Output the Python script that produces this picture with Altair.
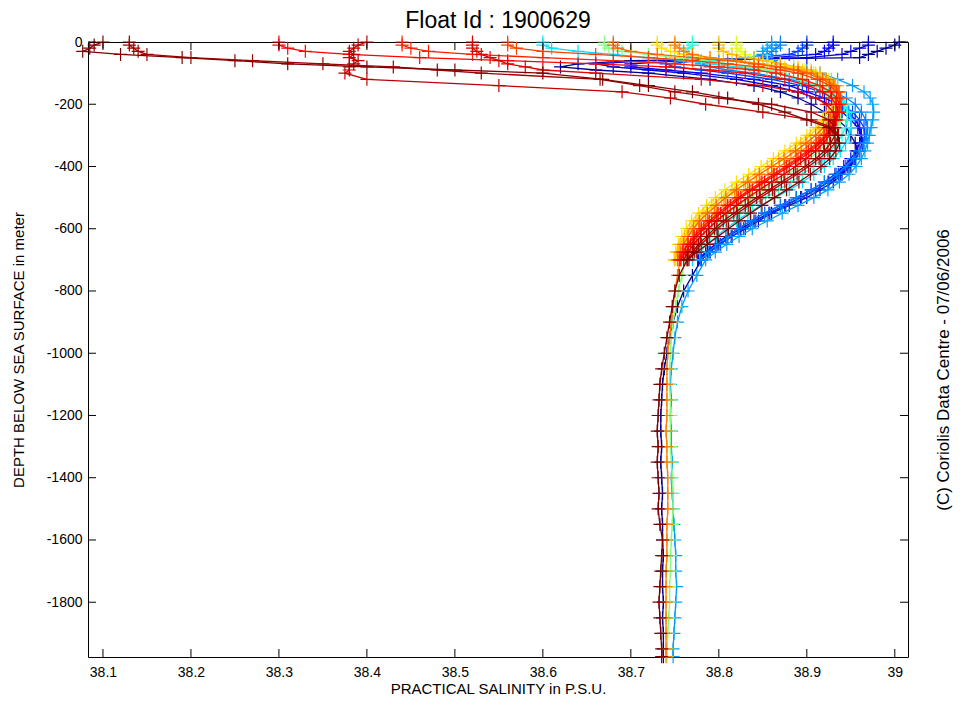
import altair as alt
import pandas as pd

TITLE = "Float Id : 1900629"
X_TITLE = "PRACTICAL SALINITY in P.S.U."
Y_TITLE = "DEPTH BELOW SEA SURFACE in meter"
NOTE = "(C) Coriolis Data Centre - 07/06/2006"

X_TICKS = [38.1, 38.2, 38.3, 38.4, 38.5, 38.6, 38.7, 38.8, 38.9, 39.0]
Y_TICKS = [0, -200, -400, -600, -800, -1000, -1200, -1400, -1600, -1800]

DEPTH_SHALLOW = [0, 10, 20, 30, 40, 50, 60, 70, 80, 90, 100,
                 120, 140, 160, 180, 200,
                 225, 250, 275, 300, 325, 350, 375, 400, 425, 450,
                 475, 500, 525, 550, 575, 600, 625, 650, 675, 700]
DEPTH_DEEP = [750, 800, 850, 900, 950, 1000, 1050, 1100, 1150, 1200, 1250, 1300, 1350,
              1400, 1450, 1500, 1550, 1600, 1650, 1700, 1750, 1800, 1850, 1900, 1950, 1975]

COLORS = ["#00008F", "#0000CF", "#0000FF", "#0040FF", "#0080FF", "#00A0FF", "#00DFFF",
          "#20FFDF", "#80FF80", "#DFFF20", "#FFDF00", "#FFBF00", "#FF8000", "#FF6000",
          "#FF4000", "#FF2000", "#FF0000", "#DF0000", "#BF0000", "#9F0000", "#800000"]

P01 = [39.005, 39.0, 38.99, 38.98, 38.97, 38.96, 38.70, 38.64, 38.62, 38.66, 38.72,
       38.79, 38.84, 38.87, 38.89, 38.905,
       38.92, 38.935, 38.945, 38.95, 38.955, 38.958, 38.955, 38.95, 38.94, 38.93,
       38.915, 38.90, 38.88, 38.86, 38.845, 38.83, 38.815, 38.80, 38.79, 38.78]
P02 = [38.97, 38.97, 38.96, 38.95, 38.94, 38.90, 38.72, 38.66, 38.68, 38.72, 38.76,
       38.82, 38.86, 38.89, 38.91, 38.925,
       38.94, 38.95, 38.958, 38.962, 38.963, 38.96, 38.955, 38.948, 38.938, 38.925,
       38.91, 38.893, 38.875, 38.857, 38.84, 38.825, 38.81, 38.798, 38.787, 38.777]
P03 = [38.93, 38.93, 38.925, 38.92, 38.91, 38.86, 38.76, 38.70, 38.70, 38.74, 38.78,
       38.84, 38.88, 38.90, 38.92, 38.935,
       38.947, 38.955, 38.96, 38.962, 38.96, 38.956, 38.95, 38.942, 38.932, 38.92,
       38.905, 38.888, 38.87, 38.852, 38.836, 38.822, 38.808, 38.796, 38.785, 38.776]
P04 = [38.90, 38.90, 38.895, 38.89, 38.88, 38.84, 38.78, 38.74, 38.75, 38.78, 38.81,
       38.86, 38.895, 38.915, 38.93, 38.94,
       38.952, 38.96, 38.965, 38.966, 38.964, 38.96, 38.954, 38.946, 38.936, 38.924,
       38.91, 38.894, 38.876, 38.858, 38.842, 38.828, 38.814, 38.802, 38.79, 38.78]
P05 = [38.87, 38.87, 38.865, 38.86, 38.855, 38.83, 38.80, 38.78, 38.79, 38.81, 38.84,
       38.88, 38.91, 38.93, 38.945, 38.955,
       38.962, 38.967, 38.969, 38.968, 38.965, 38.96, 38.953, 38.944, 38.934, 38.92,
       38.905, 38.888, 38.87, 38.852, 38.836, 38.822, 38.81, 38.798, 38.788, 38.779]
P06 = [38.86, 38.86, 38.855, 38.85, 38.85, 38.855, 38.86, 38.87, 38.885, 38.90, 38.915,
       38.935, 38.952, 38.965, 38.972, 38.975,
       38.976, 38.975, 38.973, 38.971, 38.969, 38.966, 38.962, 38.956, 38.948, 38.937,
       38.924, 38.908, 38.89, 38.872, 38.855, 38.838, 38.823, 38.809, 38.796, 38.785]
P07 = [38.60, 38.60, 38.61, 38.64, 38.68, 38.72, 38.76, 38.79, 38.82, 38.845, 38.865,
       38.89, 38.91, 38.925, 38.935, 38.942,
       38.948, 38.95, 38.95, 38.948, 38.944, 38.938, 38.93, 38.92, 38.908, 38.895,
       38.88, 38.864, 38.848, 38.833, 38.82, 38.808, 38.797, 38.787, 38.778, 38.77]
P08 = [38.77, 38.77, 38.765, 38.76, 38.76, 38.77, 38.79, 38.81, 38.835, 38.855, 38.87,
       38.895, 38.915, 38.928, 38.937, 38.943,
       38.946, 38.946, 38.944, 38.94, 38.934, 38.927, 38.918, 38.907, 38.895, 38.882,
       38.868, 38.853, 38.838, 38.824, 38.811, 38.80, 38.79, 38.781, 38.773, 38.766]
P09 = [38.67, 38.67, 38.675, 38.69, 38.72, 38.75, 38.78, 38.81, 38.835, 38.855, 38.87,
       38.893, 38.91, 38.922, 38.93, 38.935,
       38.938, 38.938, 38.935, 38.93, 38.923, 38.914, 38.903, 38.891, 38.878, 38.864,
       38.85, 38.836, 38.822, 38.81, 38.799, 38.789, 38.78, 38.773, 38.767, 38.762]
P10 = [38.82, 38.82, 38.82, 38.825, 38.83, 38.84, 38.855, 38.87, 38.885, 38.898, 38.908,
       38.922, 38.93, 38.934, 38.935, 38.934,
       38.93, 38.925, 38.918, 38.91, 38.90, 38.888, 38.875, 38.861, 38.846, 38.832,
       38.818, 38.805, 38.794, 38.784, 38.776, 38.769, 38.763, 38.758, 38.754, 38.751]
P11 = [38.73, 38.73, 38.735, 38.745, 38.76, 38.79, 38.82, 38.85, 38.875, 38.895, 38.91,
       38.925, 38.932, 38.934, 38.933, 38.93,
       38.925, 38.918, 38.91, 38.90, 38.888, 38.875, 38.862, 38.848, 38.834, 38.82,
       38.807, 38.796, 38.786, 38.777, 38.769, 38.763, 38.758, 38.754, 38.751, 38.749]
P12 = [38.80, 38.80, 38.80, 38.805, 38.815, 38.83, 38.85, 38.87, 38.89, 38.905, 38.915,
       38.928, 38.935, 38.937, 38.936, 38.933,
       38.928, 38.921, 38.913, 38.904, 38.893, 38.881, 38.868, 38.855, 38.841, 38.828,
       38.815, 38.803, 38.792, 38.782, 38.774, 38.767, 38.761, 38.756, 38.753, 38.75]
P13 = [38.75, 38.75, 38.755, 38.76, 38.77, 38.79, 38.82, 38.845, 38.87, 38.89, 38.905,
       38.922, 38.932, 38.937, 38.939, 38.938,
       38.935, 38.93, 38.923, 38.915, 38.905, 38.894, 38.882, 38.869, 38.856, 38.843,
       38.83, 38.818, 38.806, 38.795, 38.785, 38.777, 38.77, 38.764, 38.759, 38.756]
P14 = [38.68, 38.68, 38.685, 38.70, 38.73, 38.77, 38.81, 38.84, 38.865, 38.885, 38.90,
       38.918, 38.93, 38.936, 38.938, 38.937,
       38.933, 38.927, 38.919, 38.91, 38.899, 38.887, 38.874, 38.86, 38.846, 38.833,
       38.82, 38.808, 38.797, 38.787, 38.778, 38.771, 38.765, 38.76, 38.756, 38.753]
P15 = [38.56, 38.56, 38.57, 38.60, 38.66, 38.72, 38.77, 38.81, 38.845, 38.87, 38.89,
       38.912, 38.926, 38.934, 38.938, 38.939,
       38.937, 38.933, 38.927, 38.92, 38.911, 38.90, 38.888, 38.875, 38.862, 38.848,
       38.835, 38.822, 38.81, 38.799, 38.789, 38.78, 38.772, 38.765, 38.76, 38.756]
P16 = [38.44, 38.44, 38.45, 38.47, 38.52, 38.60, 38.68, 38.75, 38.80, 38.84, 38.865,
       38.895, 38.915, 38.927, 38.934, 38.937,
       38.937, 38.934, 38.929, 38.922, 38.913, 38.902, 38.89, 38.877, 38.863, 38.849,
       38.835, 38.822, 38.81, 38.799, 38.789, 38.78, 38.772, 38.765, 38.759, 38.755]
P17 = [38.30, 38.30, 38.31, 38.33, 38.38, 38.46, 38.56, 38.66, 38.74, 38.79, 38.83,
       38.875, 38.902, 38.918, 38.928, 38.933,
       38.935, 38.933, 38.929, 38.923, 38.915, 38.905, 38.893, 38.88, 38.866, 38.852,
       38.838, 38.825, 38.813, 38.802, 38.792, 38.783, 38.775, 38.768, 38.762, 38.757]
P18 = [38.52, 38.52, 38.52, 38.525, 38.53, 38.54, 38.55, 38.56, 38.58, 38.60, 38.66,
       38.78, 38.85, 38.89, 38.91, 38.922,
       38.93, 38.932, 38.93, 38.926, 38.919, 38.91, 38.899, 38.887, 38.874, 38.86,
       38.846, 38.833, 38.82, 38.808, 38.797, 38.788, 38.779, 38.771, 38.765, 38.76]
P19 = [38.40, 38.39, 38.385, 38.38, 38.385, 38.38, 38.39, 38.385, 38.38, 38.38, 38.375,
       38.40, 38.55, 38.69, 38.745, 38.785,
       38.85, 38.905, 38.93, 38.936, 38.932, 38.924, 38.914, 38.902, 38.889, 38.875,
       38.861, 38.847, 38.834, 38.821, 38.809, 38.798, 38.789, 38.78, 38.772, 38.766]
P20 = [38.13, 38.13, 38.135, 38.14, 38.15, 38.20, 38.27, 38.35, 38.43, 38.48, 38.53,
       38.665, 38.71, 38.75, 38.80, 38.86,
       38.905, 38.925, 38.932, 38.932, 38.927, 38.92, 38.91, 38.898, 38.885, 38.871,
       38.857, 38.843, 38.83, 38.817, 38.805, 38.795, 38.786, 38.777, 38.77, 38.764]
P21 = [38.10, 38.09, 38.085, 38.077, 38.12, 38.19, 38.25, 38.31, 38.40, 38.50, 38.60,
       38.668, 38.72, 38.77, 38.81, 38.845,
       38.875, 38.90, 38.925, 38.935, 38.937, 38.933, 38.926, 38.916, 38.904, 38.891,
       38.877, 38.863, 38.849, 38.836, 38.823, 38.811, 38.799, 38.787, 38.775, 38.764]

SAL_SHALLOW = [P01, P02, P03, P04, P05, P06, P07, P08, P09, P10, P11,
               P12, P13, P14, P15, P16, P17, P18, P19, P20, P21]

DEEP_DB = [38.770, 38.760, 38.753, 38.748, 38.744, 38.741, 38.738, 38.736, 38.735, 38.734, 38.734, 38.735, 38.734,
           38.735, 38.736, 38.735, 38.736, 38.736, 38.737, 38.736, 38.736, 38.737, 38.736, 38.737, 38.737, 38.737]
DEEP_LB = [38.775, 38.765, 38.758, 38.753, 38.750, 38.748, 38.746, 38.745, 38.746, 38.745, 38.746, 38.746, 38.747,
           38.746, 38.747, 38.748, 38.749, 38.750, 38.751, 38.751, 38.752, 38.751, 38.750, 38.749, 38.748, 38.748]
DEEP_GR = [38.758, 38.754, 38.751, 38.748, 38.746, 38.745, 38.744, 38.744, 38.745, 38.745, 38.745, 38.745, 38.746,
           38.747, 38.748, 38.748, 38.747, 38.746, 38.745, 38.745, 38.744, 38.744, 38.743, 38.742, 38.741, 38.741]
DEEP_OR = [38.753, 38.750, 38.748, 38.746, 38.744, 38.742, 38.741, 38.741, 38.741, 38.741, 38.740, 38.741, 38.741,
           38.742, 38.742, 38.742, 38.741, 38.741, 38.741, 38.740, 38.740, 38.740, 38.740, 38.740, 38.740, 38.740]
DEEP_DR = [38.755, 38.750, 38.747, 38.744, 38.741, 38.738, 38.735, 38.733, 38.732, 38.731, 38.730, 38.731, 38.730,
           38.731, 38.732, 38.731, 38.733, 38.736, 38.735, 38.734, 38.733, 38.732, 38.733, 38.734, 38.735, 38.735]
DEEP = {0: DEEP_DB, 5: DEEP_LB, 8: DEEP_GR, 12: DEEP_OR, 20: DEEP_DR}

W, H = 820, 615
FONT = "Liberation Sans"
PLUS = "M-1,0L1,0M0,-1L0,1"

xscale = alt.Scale(domain=[38.083, 39.015], nice=False, zero=False)
yscale = alt.Scale(domain=[-1976, 0], nice=False, zero=False)

x_axis = alt.Axis(values=X_TICKS, format=".1~f", ticks=False, grid=False, domain=False,
                  labelFont=FONT, labelFontSize=14, labelColor="black", labelPadding=8,
                  labelFlush=False, title=X_TITLE, titleFont=FONT, titleFontSize=15,
                  titleFontWeight="normal", titleColor="black", titleY=31,
                  titleBaseline="middle")
y_axis = alt.Axis(values=Y_TICKS,
                  labelExpr="datum.value == 0 ? '0' : '-' + format(-datum.value, 'd')",
                  ticks=False, grid=False, domain=False, labelFont=FONT, labelFontSize=14,
                  labelColor="black", labelPadding=6, labelFlush=False, title=Y_TITLE,
                  titleFont=FONT, titleFontSize=15, titleFontWeight="normal",
                  titleColor="black", titleX=-70, titleBaseline="middle")

layers = []
for i, (col, sal) in enumerate(zip(COLORS, SAL_SHALLOW)):
    depths = DEPTH_SHALLOW + (DEPTH_DEEP if i in DEEP else [])
    vals = sal + DEEP.get(i, [])
    n = min(len(depths), len(vals))
    df = pd.DataFrame({"s": vals[:n], "d": [-d for d in depths[:n]], "k": list(range(n))})
    base = alt.Chart(df).encode(
        x=alt.X("s:Q", scale=xscale, axis=x_axis),
        y=alt.Y("d:Q", scale=yscale, axis=y_axis),
        order=alt.Order("k:Q"),
    )
    layers.append(base.mark_line(color=col, strokeWidth=1.3))
    layers.append(base.mark_point(shape=PLUS, size=169, filled=False, color=col,
                                  strokeWidth=1.2, opacity=1))

xt = pd.DataFrame({"v": X_TICKS})
yt = pd.DataFrame({"v": Y_TICKS})
TL = 8
tick_bottom = alt.Chart(xt).mark_rule(color="black", strokeWidth=1).encode(
    x=alt.X("v:Q", scale=xscale, axis=x_axis), y=alt.value(H), y2=alt.value(H - TL))
tick_top = alt.Chart(xt).mark_rule(color="black", strokeWidth=1).encode(
    x=alt.X("v:Q", scale=xscale, axis=x_axis), y=alt.value(0), y2=alt.value(TL))
tick_left = alt.Chart(yt).mark_rule(color="black", strokeWidth=1).encode(
    y=alt.Y("v:Q", scale=yscale, axis=y_axis), x=alt.value(0), x2=alt.value(TL))
tick_right = alt.Chart(yt).mark_rule(color="black", strokeWidth=1).encode(
    y=alt.Y("v:Q", scale=yscale, axis=y_axis), x=alt.value(W), x2=alt.value(W - TL))

note = alt.Chart(pd.DataFrame({"t": [NOTE]})).mark_text(
    angle=270, font=FONT, fontSize=17, color="black", align="center", baseline="middle"
).encode(x=alt.value(W + 36), y=alt.value(328), text="t:N")

chart = alt.layer(*layers, tick_bottom, tick_top, tick_left, tick_right, note).properties(
    width=W, height=H,
    title=alt.TitleParams(TITLE, font=FONT, fontSize=23, fontWeight="normal", color="black",
                          anchor="middle", offset=0),
    autosize=alt.AutoSizeParams(type="none"),
    padding={"left": 80, "top": 34, "right": 45, "bottom": 40},
).configure(background="white").configure_view(stroke="black", strokeWidth=1)

chart.save("out.html", embed_options={"renderer": "svg", "actions": False})
